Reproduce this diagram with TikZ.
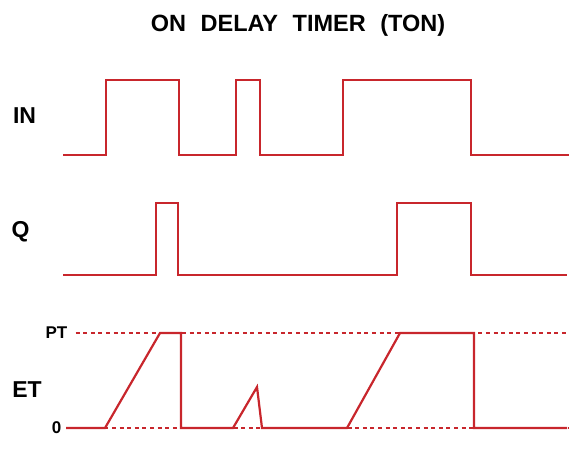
\documentclass[tikz,border=0pt]{standalone}
\usepackage{fontspec}
\setmainfont{Liberation Sans}
\usepackage{tikz}
\usetikzlibrary{positioning}
\definecolor{sigred}{RGB}{200,38,44}

\begin{document}
\begin{tikzpicture}[x=1pt, y=-1pt,
  signal/.style={draw=sigred, line width=2.2pt, line join=miter},
  level/.style={draw=sigred, line width=1.8pt, dash pattern=on 4pt off 3.6pt},
  lbl/.style={font=\fontsize{23}{23}\selectfont\bfseries, inner sep=0pt},
  tick/.style={font=\fontsize{17}{17}\selectfont\bfseries, inner sep=0pt},
]
  \useasboundingbox (0,0) rectangle (580,448);

  % Title
  \node[lbl, anchor=base, font=\fontsize{23.5}{23.5}\selectfont\bfseries] (title) at (298,31.5)
    {ON\hspace{14.5pt}DELAY\hspace{14.5pt}TIMER\hspace{14.5pt}(TON)};

  % Input IN
  \node[lbl] (in) at (24.5,115.5) {IN};
  \draw[signal] (63,155) -- (106,155) -- (106,80) -- (179,80) -- (179,155)
    -- (236,155) -- (236,80) -- (260,80) -- (260,155) -- (343,155)
    -- (343,80) -- (471,80) -- (471,155) -- (569,155);

  % Output Q
  \node[lbl] (q) at (20.5,232) {Q};
  \draw[signal] (63,275) -- (156,275) -- (156,203) -- (178,203) -- (178,275)
    -- (397,275) -- (397,203) -- (471,203) -- (471,275) -- (567,275);

  % Elapsed time ET
  \node[lbl] (et) at (27,390) {ET};
  \node[tick] (pt) at (56.5,333) {PT};
  \node[tick] (zero) at (56.5,428) {0};
  \draw[level] (pt.east) ++(8,0) -- (569,333);
  \draw[level] (zero.east) ++(5,0) -- (569,428);
  \draw[signal] (66,428) -- (105,428) -- (160,333) -- (181,333) -- (181,428)
    -- (233,428) -- (257,387) -- (262,428) -- (347,428) -- (400,333)
    -- (474,333) -- (474,428) -- (567,428);
\end{tikzpicture}
\end{document}
